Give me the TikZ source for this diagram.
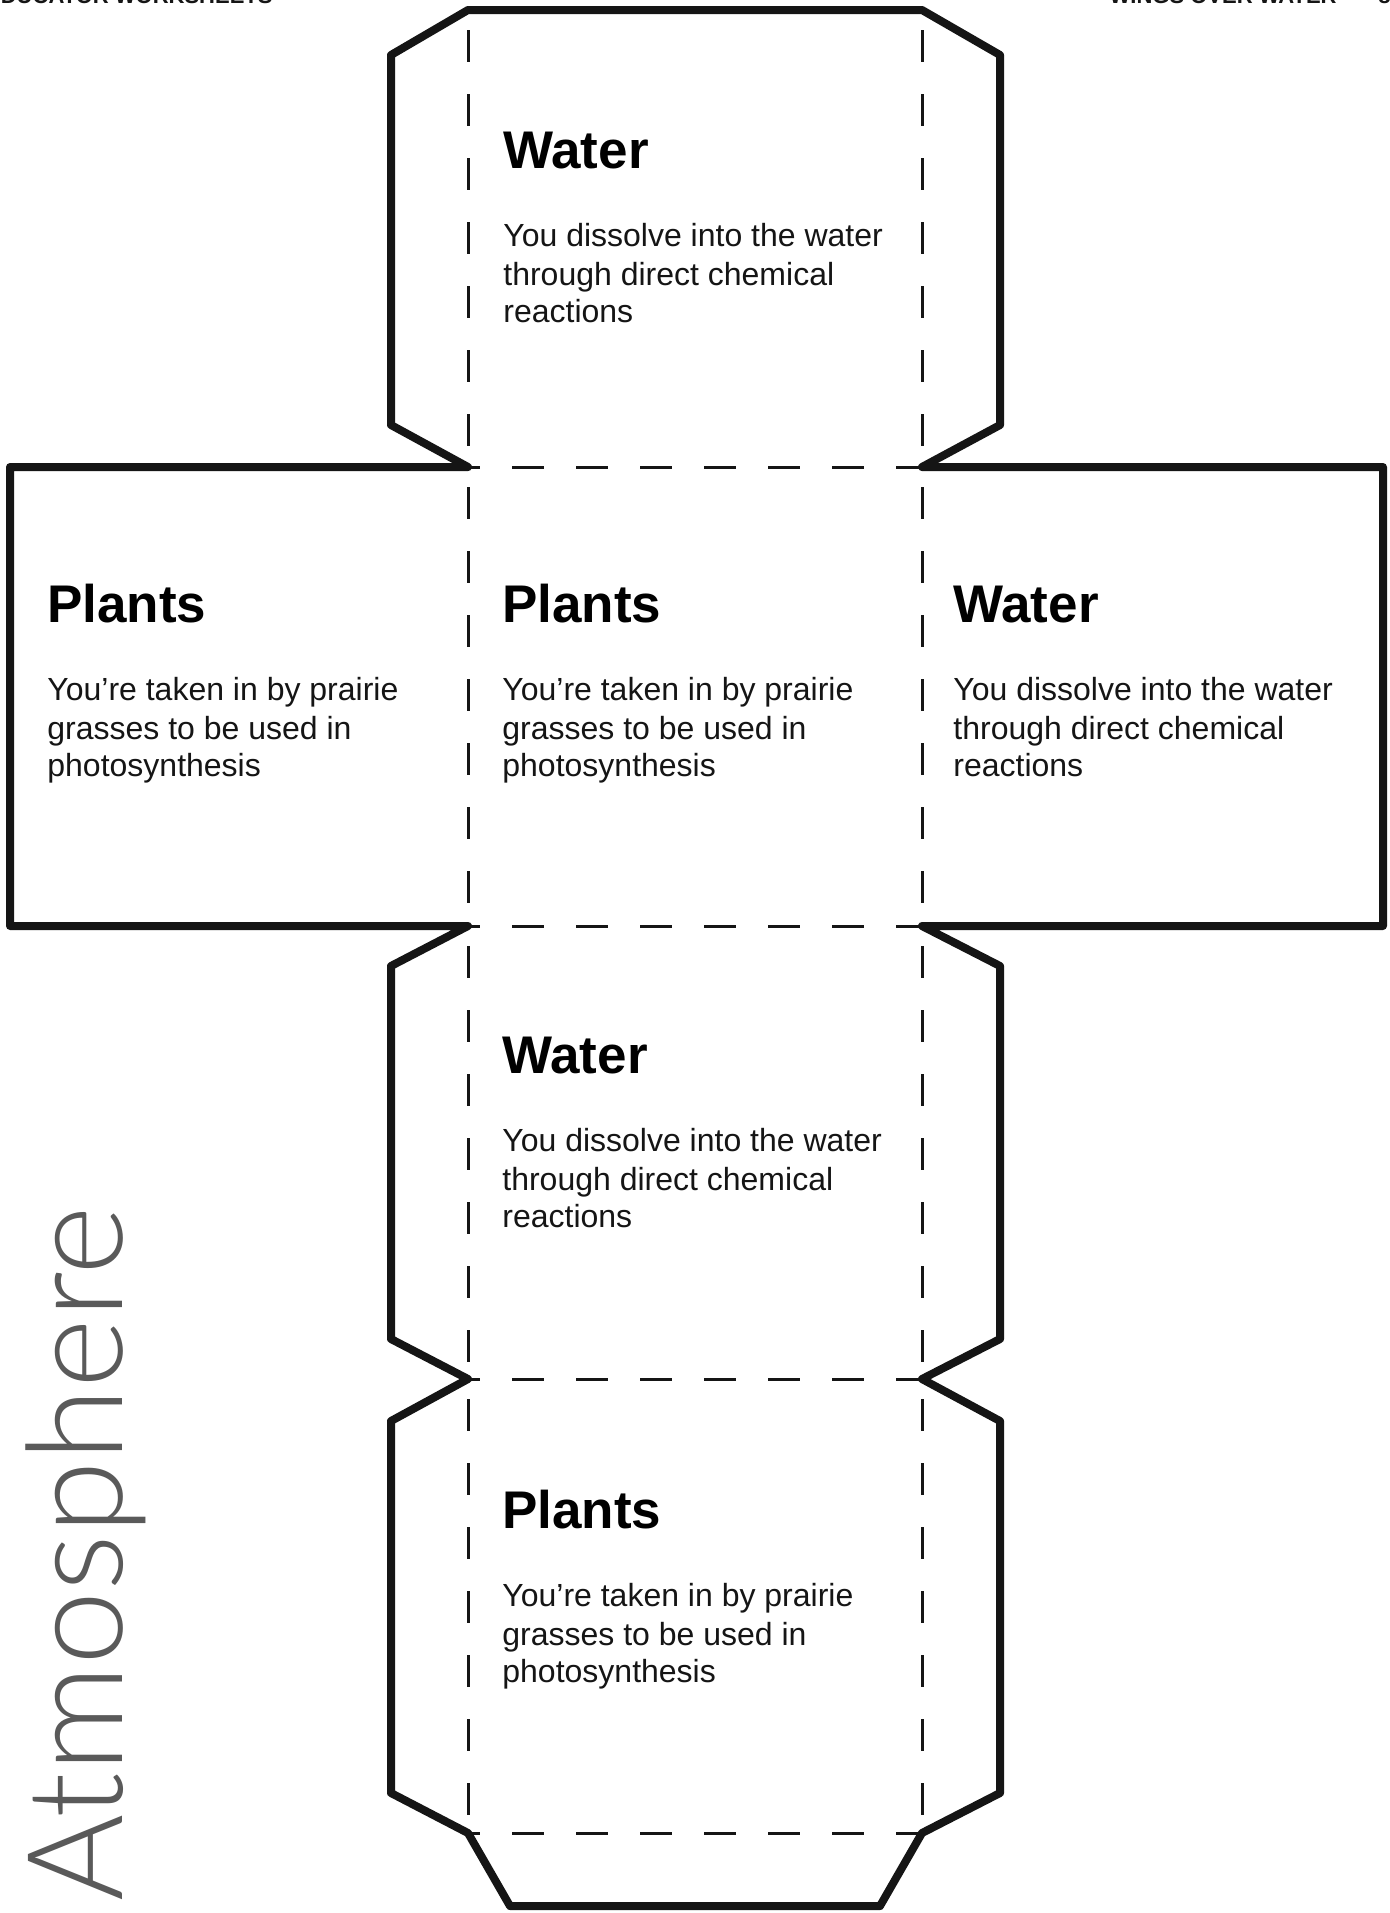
\documentclass[tikz,border=0pt]{standalone}
\usepackage{fontspec}
\setmainfont{Liberation Sans}
\newfontfamily\atmfont{Lato Light}
\definecolor{atmgray}{HTML}{5A5A5A}
\definecolor{ink}{HTML}{151515}
\newcommand\facetext[7]{%
  \node[head] (#1h) at (#2,#3) {#4};
  \node[body] (#1a) at (#2,#3+78) {#5};
  \node[body] (#1b) at (#2,#3+117) {#6};
  \node[body] (#1c) at (#2,#3+154) {#7};
}
\begin{document}
\begin{tikzpicture}[x=0.5pt,y=-0.5pt,
  outline/.style={line width=4pt,line join=round,draw=ink},
  fold/.style={line width=1.5pt,draw=ink,dash pattern=on 16pt off 16pt},
  vfold/.style={fold,dash phase=22pt},
  hfold/.style={fold,dash phase=10pt},
  head/.style={anchor=base west,inner sep=0pt,font=\fontsize{26.5}{30}\selectfont\bfseries},
  body/.style={anchor=base west,inner sep=0pt,text=ink,font=\fontsize{16}{19}\selectfont},
  header/.style={inner sep=0pt,text=ink,font=\fontsize{11}{13}\selectfont\bfseries},
]
\useasboundingbox (0,0) rectangle (1389,1913);
\clip (0,0) rectangle (1389,1913);
\fill[white] (0,0) rectangle (1389,1913);

% header (cut off at the top of the page, as in the reference)
\node[header,anchor=base east] (hl) at (273,3) {EDUCATOR WORKSHEETS};
\node[header,anchor=base east] (hr) at (1337,3) {WINGS OVER WATER};
\node[header,anchor=base west] (pg) at (1378,3) {8};

% fold points
\coordinate (A) at (468,10);
\coordinate (B) at (922,10);
\coordinate (P1) at (468,467);
\coordinate (P2) at (922,467);
\coordinate (P3) at (468,926);
\coordinate (P4) at (922,926);
\coordinate (P5) at (468,1379);
\coordinate (P6) at (922,1379);
\coordinate (P7) at (468,1833);
\coordinate (P8) at (922,1833);

% cut outline
\draw[outline,fill=white] (A) -- (B) -- (1000,55) -- (1000,425) -- (P2)
  -- (1383,467) -- (1383,926) -- (P4) -- (1000,966) -- (1000,1339) -- (P6)
  -- (1000,1421) -- (1000,1793) -- (P8) -- (880,1906) -- (510,1906) -- (P7)
  -- (391,1793) -- (391,1421) -- (P5) -- (391,1339) -- (391,966) -- (P3)
  -- (10,926) -- (10,467) -- (P1) -- (391,425) -- (391,55) -- cycle;

% fold lines
\draw[vfold] (A) -- (P1);
\draw[vfold] (P1) -- (P3);
\draw[vfold] (P3) -- (P5);
\draw[vfold] (P5) -- (P7);
\draw[vfold] (B) -- (P2);
\draw[vfold] (P2) -- (P4);
\draw[vfold] (P4) -- (P6);
\draw[vfold] (P6) -- (P8);
\draw[hfold] (P1) -- (P2);
\draw[hfold] (P3) -- (P4);
\draw[hfold] (P5) -- (P6);
\draw[hfold] (P7) -- (P8);

% face texts
\facetext{top}{503}{168}{Water}{You dissolve into the water}{through direct chemical}{reactions}
\facetext{left}{47}{622}{Plants}{You’re taken in by prairie}{grasses to be used in}{photosynthesis}
\facetext{mid}{502}{622}{Plants}{You’re taken in by prairie}{grasses to be used in}{photosynthesis}
\facetext{right}{953}{622}{Water}{You dissolve into the water}{through direct chemical}{reactions}
\facetext{lowa}{502}{1073}{Water}{You dissolve into the water}{through direct chemical}{reactions}
\facetext{lowb}{502}{1528}{Plants}{You’re taken in by prairie}{grasses to be used in}{photosynthesis}

% side title
\node[rotate=90,anchor=base west,inner sep=0pt,text=atmgray,
  font=\atmfont\fontsize{66.5}{70}\selectfont] (atm) at (122,1902) {Atmosphere};
\end{tikzpicture}
\end{document}
